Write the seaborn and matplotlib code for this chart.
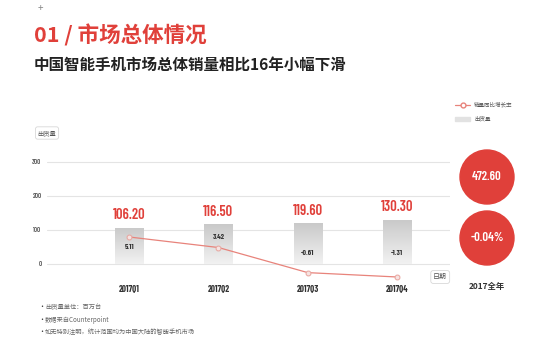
import numpy as np
import pandas as pd
import matplotlib
matplotlib.use("Agg")
import matplotlib.pyplot as plt
import seaborn as sns
from matplotlib.lines import Line2D
from matplotlib.patches import Ellipse, Rectangle
from matplotlib.colors import LinearSegmentedColormap

quarters = ["2017Q1", "2017Q2", "2017Q3", "2017Q4"]
shipments = [106.20, 116.50, 119.60, 130.30]
growth = [5.11, 3.42, -0.61, -1.31]
year_total = "472.60"
year_growth = "-0.04%"
notes = ["出货量单位：百万台", "数据来自Counterpoint", "如无特别注明，统计范围均为中国大陆的智能手机市场"]

sns.set_style("white")
plt.rcParams["font.family"] = ["Noto Sans CJK SC", "DejaVu Sans"]
COND = ["Barlow Condensed", "DejaVu Sans"]

RED = "#e0403a"
df = pd.DataFrame({"quarter": quarters, "shipments": shipments, "growth": growth})

fig = plt.figure(figsize=(5.54, 3.64), dpi=100)
ax = fig.add_axes([0.085, 0.2327, 0.727, 0.3316])

sns.barplot(data=df, x="quarter", y="shipments", color="#d4d4d4", width=0.315, ax=ax, zorder=2)

# vertical gradient inside each bar (light at the bottom, darker at the top)
bar_cmap = LinearSegmentedColormap.from_list("bar", ["#f2f2f2", "#c9c9c9"])
grad = np.linspace(0, 1, 100).reshape(-1, 1)
for p in ax.patches:
    x0, y0 = p.get_x(), p.get_y()
    w, h = p.get_width(), p.get_height()
    im = ax.imshow(grad, cmap=bar_cmap, aspect="auto",
                   extent=[x0, x0 + w, y0, y0 + h], origin="lower", zorder=3)
    im.set_clip_path(p)
    p.set_alpha(0)

ax.set_xlim(-0.918, 3.59)
ax.set_ylim(-45, 310)
ax.set_yticks([0, 100, 200, 300])
ax.set_yticklabels(["0", "100", "200", "300"], fontsize=5, color="#555", family=COND,
                   fontweight="semibold")
ax.yaxis.grid(True, color="#e4e4e4", linewidth=0.8)
ax.set_axisbelow(True)
ax.tick_params(axis="x", length=0, pad=4, labelsize=6.5, labelcolor="#333")
ax.tick_params(axis="y", length=0, pad=4)
for lbl in ax.get_xticklabels():
    lbl.set_fontweight("bold")
    lbl.set_family(COND)
ax.set_xlabel("")
ax.set_ylabel("")
sns.despine(ax=ax, left=True, bottom=True)

for i, v in enumerate(shipments):
    ax.text(i, v + 17, f"{v:.2f}", ha="center", va="bottom", color=RED,
            fontsize=10.5, fontweight="semibold", family=COND, zorder=5)

ax2 = ax.twinx()
sns.lineplot(data=df, x="quarter", y="growth", ax=ax2, color="#e8837b", linewidth=0.9,
             marker="o", markersize=3.5, markerfacecolor="#f6e4e2",
             markeredgecolor="#e8a7a1", clip_on=False, zorder=6)
ax2.set_ylim(-1.68, 17.69)
ax2.set_yticks([])
ax2.set_ylabel("")
sns.despine(ax=ax2, left=True, right=True, bottom=True)

growth_label_y = [50, 79, 32, 32]
for i, g in enumerate(growth):
    ax.text(i, growth_label_y[i], f"{g:.2f}", ha="center", va="center",
            fontsize=5.5, fontweight="bold", family=COND, color="#333", zorder=7)

# box labels
box = dict(boxstyle="round,pad=0.35", fc="white", ec="#d8d8d8", lw=0.6)
fig.text(0.068, 1 - 133 / 364, "出货量", fontsize=4.5, color="#555", va="center", bbox=box)
fig.text(0.782, 1 - 277 / 364, "日期", fontsize=5, color="#555", va="center", bbox=box)

# legend
fig.add_artist(Line2D([455 / 554, 470 / 554], [1 - 105 / 364] * 2, color="#e8837b", lw=0.9))
fig.add_artist(Line2D([462.5 / 554], [1 - 105 / 364], color="#e8837b", marker="o",
                      markersize=3.5, markerfacecolor="white", markeredgecolor="#e8837b"))
fig.add_artist(Rectangle((455 / 554, 1 - 121 / 364), 15 / 554, 4 / 364, color="#e2e2e2"))
fig.text(474 / 554, 1 - 105 / 364, "销量同比增长率", fontsize=4, color="#555", va="center")
fig.text(474 / 554, 1 - 119 / 364, "出货量", fontsize=4, color="#555", va="center")

# full year circles
for cy, txt in [(177, year_total), (238, year_growth)]:
    fig.add_artist(Ellipse((487 / 554, 1 - cy / 364), 54 / 554, 54 / 364, color=RED))
    fig.text(487 / 554, 1 - cy / 364, txt, ha="center", va="center", color="white",
             fontsize=9, fontweight="semibold", family=COND)
fig.text(487 / 554, 1 - 287 / 364, "2017全年", ha="center", va="center", color="#333",
         fontsize=6, fontweight="bold")

# titles
fig.text(38 / 554, 1 - 8 / 364, "+", fontsize=7, color="#888", va="center")
fig.text(34 / 554, 1 - 35 / 364, "01 / 市场总体情况", fontsize=15.5, color=RED,
         fontweight="bold", va="center")
fig.text(34 / 554, 1 - 65 / 364, "中国智能手机市场总体销量相比16年小幅下滑", fontsize=11.2,
         color="#222", fontweight="bold", va="center")

# footnotes
for k, note in enumerate(notes):
    fig.text(38 / 554, 1 - (307 + 12.5 * k) / 364, "•", fontsize=5, color="#333", va="center")
    fig.text(45 / 554, 1 - (307 + 12.5 * k) / 364, note, fontsize=4.5, color="#666",
             va="center")

fig.savefig("out.png", dpi=100, facecolor="white")
